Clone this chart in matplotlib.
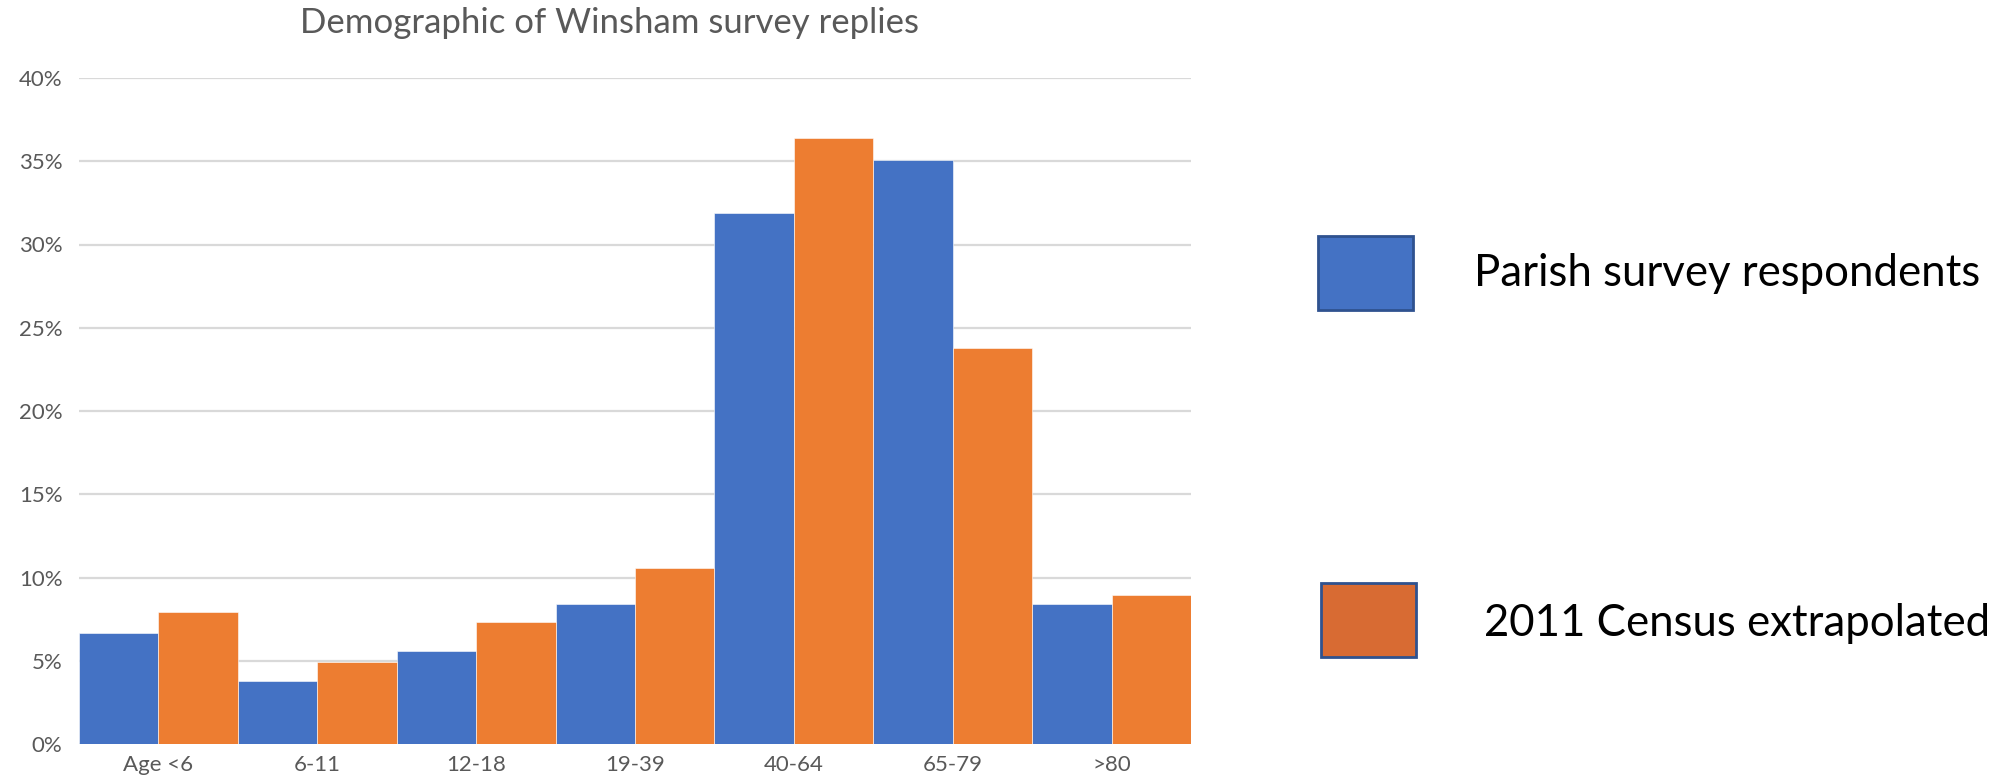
import matplotlib.pyplot as plt
from matplotlib.patches import Rectangle
from matplotlib.ticker import FuncFormatter

# age bands and the two series (percent)
age_bands = ['Age <6', '6-11', '12-18', '19-39', '40-64', '65-79', '>80']
survey = [6.65, 3.8, 5.6, 8.4, 31.9, 35.1, 8.4]
census = [7.95, 4.9, 7.35, 10.55, 36.4, 23.8, 8.95]
legend_labels = ['Parish survey respondents', '2011 Census extrapolated']

blue = '#4472c4'
orange = '#ed7d31'
grey_text = '#595959'

plt.rcParams['font.family'] = ['Lato', 'DejaVu Sans']

fig = plt.figure(figsize=(19.97, 7.8), dpi=100)
ax = fig.add_axes([79 / 1997, 36 / 780, 1112 / 1997, 666 / 780])

x = range(len(age_bands))
w = 0.5
ax.bar([i - w / 2 for i in x], survey, width=w, color=blue, zorder=3,
       edgecolor='white', linewidth=0.4)
ax.bar([i + w / 2 for i in x], census, width=w, color=orange, zorder=3,
       edgecolor='white', linewidth=0.4)

ax.set_xlim(-0.5, len(age_bands) - 0.5)
ax.set_ylim(0, 40)
ax.set_yticks(range(0, 41, 5))
ax.yaxis.set_major_formatter(FuncFormatter(lambda v, p: f'{v:.0f}%'))
ax.set_xticks(list(x))
ax.set_xticklabels(age_bands)
ax.tick_params(axis='both', length=0, colors=grey_text, labelsize=16)
ax.tick_params(axis='y', pad=12)
ax.tick_params(axis='x', pad=8)
ax.grid(axis='y', color='#d9d9d9', linewidth=1.6, zorder=0)
ax.set_axisbelow(True)
for s in ax.spines.values():
    s.set_visible(False)

fig.text(609 / 1997, 1 - 23 / 780, 'Demographic of Winsham survey replies',
         ha='center', va='center', fontsize=25, color=grey_text)

# legend drawn by hand, like the original slide
boxes = [(1318, 236, blue), (1321, 583, '#d86b33')]
text_pos = [(1474, 274), (1484, 624)]
for (bx, by, c), (tx, ty), lab in zip(boxes, text_pos, legend_labels):
    fig.patches.append(Rectangle((bx / 1997, 1 - (by + 74) / 780), 95 / 1997, 74 / 780,
                                 transform=fig.transFigure, facecolor=c,
                                 edgecolor='#2f528f', linewidth=2))
    fig.text(tx / 1997, 1 - ty / 780, lab, ha='left', va='center',
             fontsize=31.5, color='black')

plt.savefig('out.png')
